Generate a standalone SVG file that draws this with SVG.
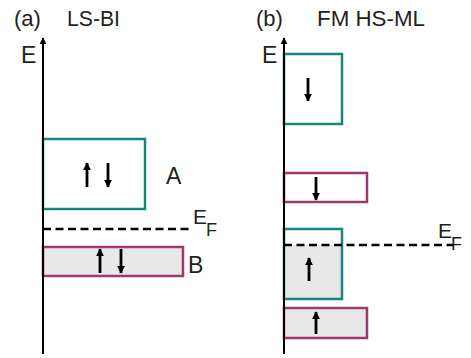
<svg xmlns="http://www.w3.org/2000/svg" width="471" height="358" viewBox="0 0 471 358">
<defs>
<style>
text{font-family:"Liberation Sans",Arial,sans-serif;fill:#231f20}
.teal{fill:#fff;stroke:#13877f;stroke-width:2.5}
.mag{fill:#fff;stroke:#9c3a6b;stroke-width:2.5}
.grey{fill:#e8e8e8}
.axis{stroke:#000;stroke-width:2;fill:none}
.spin{stroke:#000;stroke-width:2.8;fill:none}
.ef{stroke:#000;stroke-width:2.5;stroke-dasharray:8 4.5;fill:none}
</style>
<marker id="ah" viewBox="0 0 10 10" refX="9" refY="5" markerWidth="7" markerHeight="10" markerUnits="userSpaceOnUse" orient="auto"><path d="M0,0 L10,5 L0,10 Z" fill="#000"/></marker>
<marker id="sh" viewBox="0 0 10 10" refX="9" refY="5" markerWidth="8" markerHeight="8" markerUnits="userSpaceOnUse" orient="auto"><path d="M0,0 L10,5 L0,10 Z" fill="#000"/></marker>
</defs>
<g id="labels">
<text x="14" y="26" font-size="22">(a)</text>
<text x="67" y="26" font-size="22" textLength="53" lengthAdjust="spacingAndGlyphs">LS-BI</text>
<text x="256" y="26" font-size="22">(b)</text>
<text x="317" y="26" font-size="22" textLength="108" lengthAdjust="spacingAndGlyphs">FM HS-ML</text>
<text x="21" y="63" font-size="23">E</text>
<text x="262" y="63" font-size="23">E</text>
</g>
<g id="panel-a">
<g id="bandA">
<rect class="teal" x="43" y="139" width="102" height="70"/>
<line class="spin" x1="87" y1="187" x2="87" y2="163" marker-end="url(#sh)"/>
<line class="spin" x1="108" y1="163" x2="108" y2="187" marker-end="url(#sh)"/>
<text x="166" y="184" font-size="23">A</text>
</g>
<g id="bandB">
<rect class="mag grey" x="43" y="247" width="140" height="29"/>
<line class="spin" x1="100" y1="273" x2="100" y2="249" marker-end="url(#sh)"/>
<line class="spin" x1="121" y1="249" x2="121" y2="273" marker-end="url(#sh)"/>
<text x="188" y="273" font-size="23">B</text>
</g>
<g id="EF-a">
<line class="ef" x1="43" y1="229" x2="192" y2="229"/>
<text x="193" y="224" font-size="21">E</text>
<text x="206" y="236" font-size="18">F</text>
</g>
</g>
<g id="panel-b">
<g id="b-band1">
<rect class="teal" x="284" y="54" width="58" height="70"/>
<line class="spin" x1="308" y1="78" x2="308" y2="101" marker-end="url(#sh)"/>
</g>
<g id="b-band2">
<rect class="mag" x="284" y="173" width="83" height="29"/>
<line class="spin" x1="316" y1="177" x2="316" y2="200" marker-end="url(#sh)"/>
</g>
<g id="b-band3">
<rect class="grey" x="284" y="245" width="58" height="54"/>
<rect x="284" y="229" width="58" height="70" fill="none" stroke="#13877f" stroke-width="2.5"/>
<line class="spin" x1="309" y1="281" x2="309" y2="258" marker-end="url(#sh)"/>
</g>
<g id="b-band4">
<rect class="mag grey" x="284" y="308" width="83" height="30"/>
<line class="spin" x1="316" y1="334" x2="316" y2="312" marker-end="url(#sh)"/>
</g>
<g id="EF-b">
<line class="ef" x1="284" y1="245" x2="453" y2="245"/>
<text x="438" y="238" font-size="21">E</text>
<text x="451" y="250" font-size="18">F</text>
</g>
</g>
<g id="connectors">
<line class="axis" x1="43" y1="354" x2="43" y2="38" marker-end="url(#ah)"/>
<line class="axis" x1="284" y1="354" x2="284" y2="38" marker-end="url(#ah)"/>
</g>
</svg>
